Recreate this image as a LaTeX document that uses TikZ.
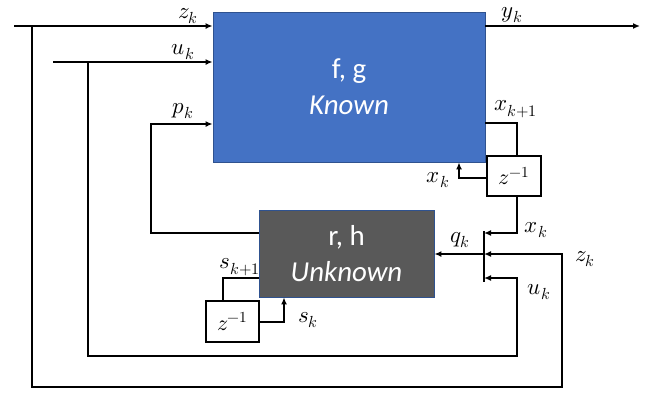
\documentclass[tikz,border=0pt]{standalone}
\usepackage{fontspec}
\usepackage{unicode-math}
\setmainfont{Carlito}
\usetikzlibrary{arrows.meta}
\definecolor{kblue}{HTML}{4472C4}
\definecolor{kedge}{HTML}{2F528F}
\definecolor{ugray}{HTML}{595959}
\begin{document}
\begin{tikzpicture}[x=1bp,y=-1bp,
  wire/.style={line width=2bp, line join=miter},
  arr/.style={wire,-{Latex[length=7bp,width=6bp]}},
  lbl/.style={inner sep=0pt, font=\fontsize{23}{26}\selectfont},
  delay/.style={draw, line width=1.3bp, fill=white, minimum width=54bp, minimum height=40bp, inner sep=0pt, font=\fontsize{22}{26}\selectfont},
  sysbox/.style={draw=kedge, line width=0.8bp, inner sep=0pt, text=white, align=center, font=\fontsize{29}{36}\selectfont}]
\useasboundingbox (0,0) rectangle (651,394);
% boxes
\node[sysbox, fill=kblue, minimum width=272bp, minimum height=150bp] (fg) at (349,87) {f, g\\\itshape Known};
\node[sysbox, fill=ugray, minimum width=175bp, minimum height=87bp] (rh) at (346.5,253.5) {r, h\\\itshape Unknown};
\node[delay] (za) at (514,176) {$z^{-1}$};
\node[delay, minimum width=53bp, minimum height=41bp] (zb) at (232.5,321.5) {$z^{-1}$};
% coordinates
\coordinate (zin) at (14,26);
\coordinate (zdn) at (32,26);
\coordinate (zb1) at (32,387);
\coordinate (zb2) at (562,387);
\coordinate (zb3) at (562,254);
\coordinate (uin) at (53,62);
\coordinate (udn) at (88,62);
\coordinate (ub1) at (88,356);
\coordinate (ub2) at (517,356);
\coordinate (ub3) at (517,278);
\coordinate (yout) at (640,26);
\coordinate (bartop) at (484,231);
\coordinate (barbot) at (484,282);
\coordinate (pc1) at (151,233);
\coordinate (pc2) at (151,124);
\coordinate (xn1) at (517,123);
\coordinate (xl1) at (459,178);
\coordinate (xd1) at (517,233);
\coordinate (s1) at (223,278);
\coordinate (s2) at (284,322);
% wires
\draw[arr] (zin) -- (zin -| fg.west);
\draw[arr] (zdn -| fg.east) -- (yout);
\draw[arr] (zdn) -- (zb1) -- (zb2) -- (zb3) -- (zb3 -| bartop);
\draw[arr] (uin) -- (uin -| fg.west);
\draw[arr] (udn) -- (ub1) -- (ub2) -- (ub3) -- (ub3 -| bartop);
\draw[arr] (pc1 -| rh.west) -- (pc1) -- (pc2) -- (pc2 -| fg.west);
\draw[wire] (xn1 -| fg.east) -- (xn1) -- (xn1 |- za.north);
\draw[arr] (xl1 -| za.west) -- (xl1) -- (xl1 |- fg.south);
\draw[arr] (za.south -| xd1) -- (xd1) -- (xd1 -| bartop);
\draw[wire] (bartop) -- (barbot);
\draw[arr] (zb3 -| bartop) -- (zb3 -| rh.east);
\draw[wire] (s1 -| rh.west) -- (s1) -- (s1 |- zb.north);
\draw[arr] (s2 -| zb.east) -- (s2) -- (s2 |- rh.south);
% labels
\node[lbl] (lz1) at (188,16) {$z_k$};
\node[lbl] (lu1) at (183,52) {$u_k$};
\node[lbl] (lp1) at (183,111) {$p_k$};
\node[lbl] (ly) at (512,15) {$y_k$};
\node[lbl] (lxk1) at (516,109) {$x_{k+1}$};
\node[lbl] (lxa) at (438,180) {$x_k$};
\node[lbl] (lxb) at (536,230) {$x_k$};
\node[lbl] (lq) at (460,240) {$q_k$};
\node[lbl] (lz2) at (585,259) {$z_k$};
\node[lbl] (lu2) at (539,292) {$u_k$};
\node[lbl] (ls1) at (240,267) {$s_{k+1}$};
\node[lbl] (ls2) at (308,320) {$s_k$};
\end{tikzpicture}
\end{document}
